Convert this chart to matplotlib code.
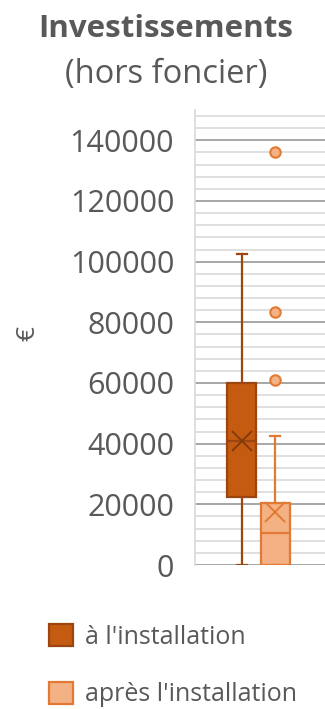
import matplotlib
matplotlib.use('Agg')
import matplotlib.pyplot as plt
from matplotlib.patches import Patch
from matplotlib.ticker import MultipleLocator

# data
series = ["à l'installation", "après l'installation"]
q1 = [22500, 0]
med = [41000, 10500]
q3 = [60000, 20500]
whislo = [0, 0]
whishi = [102500, 42500]
means = [41000, 17500]
fliers = [[], [136000, 83500, 61000]]

fills = ['#C55A11', '#F4B183']
edges = ['#9C4510', '#E27A35']
mean_cols = ['#843C0C', '#E27A35']

plt.rcParams['font.family'] = ['Open Sans', 'DejaVu Sans']
fig = plt.figure(figsize=(3.25, 7.09), dpi=100)
ax = fig.add_axes([0.6, 0.2031, 0.4, 0.6418])

stats = []
for i in range(2):
    stats.append(dict(q1=q1[i], med=med[i], q3=q3[i], whislo=whislo[i],
                      whishi=whishi[i], mean=means[i], fliers=fliers[i],
                      label=series[i]))

for i in range(2):
    bp = ax.bxp([stats[i]], positions=[1 + i], widths=0.88, patch_artist=True,
                showmeans=True, showfliers=True,
                boxprops=dict(facecolor=fills[i], edgecolor=edges[i], linewidth=1.6),
                medianprops=dict(color=edges[i], linewidth=1.6),
                whiskerprops=dict(color=edges[i], linewidth=1.6),
                capprops=dict(color=edges[i], linewidth=1.6),
                capwidths=0.3,
                meanprops=dict(marker='x', markersize=14, markeredgecolor=mean_cols[i],
                               markeredgewidth=1.4),
                flierprops=dict(marker='o', markersize=7.5, markerfacecolor='#F4B183',
                                markeredgecolor='#E27A35', markeredgewidth=1.5))
    for art in bp['boxes'] + bp['whiskers'] + bp['caps'] + bp['medians']:
        art.set_zorder(3)
    for art in bp['means'] + bp['fliers']:
        art.set_zorder(4)

ax.set_xlim(-0.39, 3.48)
ax.set_ylim(0, 150000)
ax.yaxis.set_major_locator(MultipleLocator(20000))
ax.yaxis.set_minor_locator(MultipleLocator(4000))
ax.set_yticks([0, 20000, 40000, 60000, 80000, 100000, 120000, 140000])
ax.grid(which='major', axis='y', color='#A6A6A6', linewidth=1.4, zorder=0)
ax.grid(which='minor', axis='y', color='#D9D9D9', linewidth=1.2, zorder=0)
ax.set_axisbelow(True)
ax.set_xticks([])
ax.tick_params(axis='y', which='both', length=0, labelsize=22, labelcolor='#595959', pad=15)
for s in ['top', 'right', 'bottom']:
    ax.spines[s].set_visible(False)
ax.spines['left'].set_color('#D9D9D9')
ax.spines['left'].set_linewidth(1.2)

fig.text(0.086, 0.53, '€', rotation=90, fontsize=19, color='#595959', ha='center', va='center')
fig.text(0.51, 0.948, 'Investissements', fontsize=22.5, fontweight='bold', color='#595959',
         ha='center', va='baseline')
fig.text(0.51, 0.883, '(hors foncier)', fontsize=23.5, color='#595959', ha='center', va='baseline')

handles = [Patch(facecolor=fills[i], edgecolor=edges[i], linewidth=1.6) for i in range(2)]
fig.legend(handles, series, loc='center left', bbox_to_anchor=(0.082, 0.061), frameon=False,
           fontsize=18, labelcolor='#595959', handlelength=0.95, handleheight=0.95,
           handletextpad=0.5, labelspacing=1.3)

fig.savefig('out.png', dpi=100)
